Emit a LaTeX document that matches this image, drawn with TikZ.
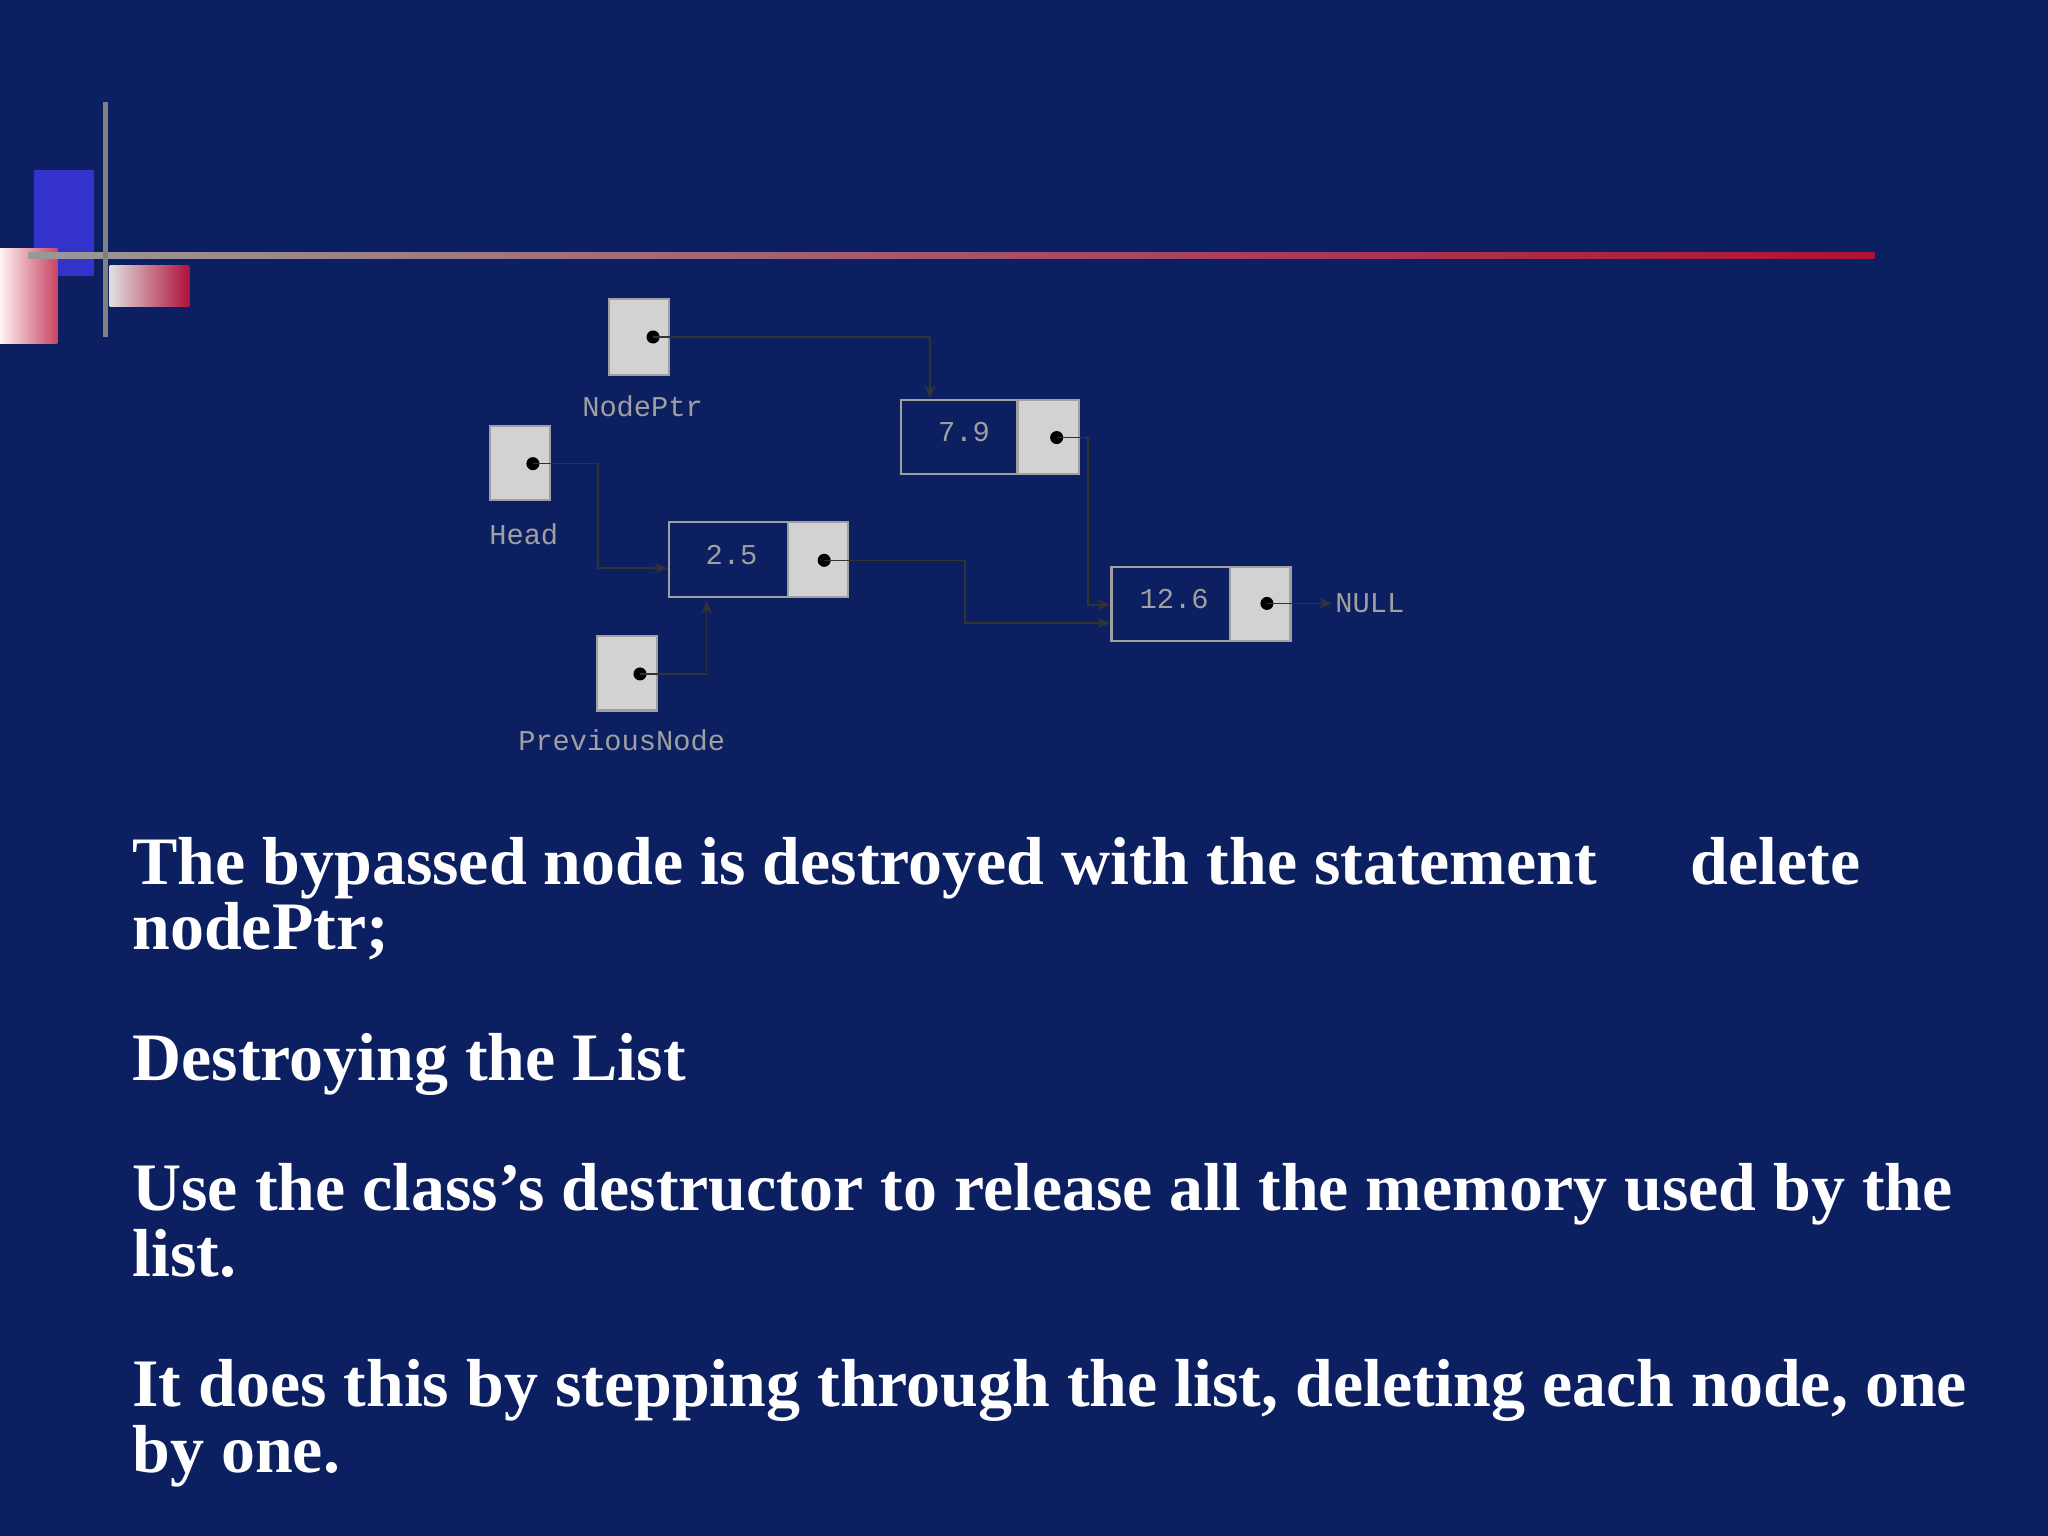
\documentclass[tikz,border=0pt]{standalone}
\usepackage{fontspec}
\setmainfont{Liberation Serif}
\setmonofont{Liberation Mono}
\usetikzlibrary{arrows.meta}
\definecolor{bg}{HTML}{0C1F60}
\definecolor{ptrfill}{HTML}{D2D2D2}
\definecolor{lbl}{HTML}{A0A0A0}
\definecolor{redline}{HTML}{B0103A}
\tikzset{
 ptrbox/.style={draw=lbl,fill=ptrfill,line width=0.8pt},
 databox/.style={draw=lbl,line width=0.8pt},
 lab/.style={font=\ttfamily\fontsize{11}{12}\selectfont,text=lbl},
 dot/.style={circle,fill=black,inner sep=0pt,minimum size=5pt},
 link/.style={draw=black!80,line width=0.6pt},
 arr/.style={link,-{Stealth[length=5pt,width=4pt]}},
 body/.style={anchor=base west,text=white,font=\bfseries\fontsize{26}{26}\selectfont,inner sep=0pt}
}
\begin{document}
\begin{tikzpicture}[x=0.5pt,y=-0.5pt]
\fill[bg] (0,0) rectangle (1568,1176);
\useasboundingbox (0,0) rectangle (1568,1176);
% decoration
\fill[blue!70!black!90!white, fill={rgb,255:red,51;green,51;blue,204}] (26,130) rectangle (72,211);
\shade[left color=white!80!pink,right color=redline!70!pink] (0,190) rectangle (44,263);
\shade[left color=white!75!gray,right color=redline] (84,203) rectangle (145,235);
\shade[left color=gray!80!white,right color=redline] (22,193) rectangle (1435,198);
\fill[gray] (79,78) rectangle (83,258);
% pointer boxes
\draw[ptrbox] (466,229) rectangle (512,287);
\node[dot] (np) at (500,258) {};
\node[lab] (npl) at (492,311) {NodePtr};
\draw[ptrbox] (375,326) rectangle (421,383);
\node[dot] (hd) at (408,355) {};
\node[lab] (hdl) at (401,409) {Head};
\draw[ptrbox] (457,487) rectangle (503,544);
\node[dot] (pv) at (490,516) {};
\node[lab] (pvl) at (476,567) {PreviousNode};
% list nodes
\draw[databox] (690,306) rectangle (779,363);
\draw[ptrbox] (779,306) rectangle (826,363);
\node[lab] (d79) at (738,331) {7.9};
\node[dot] (p79) at (809,335) {};
\draw[databox] (512,400) rectangle (603,457);
\draw[ptrbox] (603,400) rectangle (649,457);
\node[lab] (d25) at (560,425) {2.5};
\node[dot] (p25) at (631,429) {};
\draw[databox] (851,434) rectangle (942,491);
\draw[ptrbox] (942,434) rectangle (988,491);
\node[lab] (d126) at (899,459) {12.6};
\node[dot] (p126) at (970,462) {};
\node[lab,anchor=west,inner sep=1pt] (null) at (1020,462) {NULL};
\coordinate (n79top) at (712,305);
\coordinate (n126a) at (850,463);
\coordinate (n126b) at (850,477);
\coordinate (n25l) at (511,435);
\coordinate (n25b) at (541,460);
% connectors
\draw[arr] (np.center) -| (n79top);
\draw[arr] (p79.center) -- (833,335) |- (n126a);
\draw[arr] (p25.center) -- (739,429) |- (n126b);
\draw[arr] (hd.center) -- (458,355) |- (n25l);
\draw[arr] (pv.center) -| (n25b);
\draw[arr] (p126.center) -- (null.west);
% text
\node[body] (t1) at (101,677) {The bypassed node is destroyed with the statement};
\node[body] (t1b) at (1294,677) {delete};
\node[body] (t2) at (101,727) {nodePtr;};
\node[body] (t3) at (101,827) {Destroying the List};
\node[body] (t4) at (101,927) {Use the class’s destructor to release all the memory used by the};
\node[body] (t5) at (101,977) {list.};
\node[body] (t6) at (101,1077) {It does this by stepping through the list, deleting each node, one};
\node[body] (t7) at (101,1127) {by one.};
\end{tikzpicture}
\end{document}
